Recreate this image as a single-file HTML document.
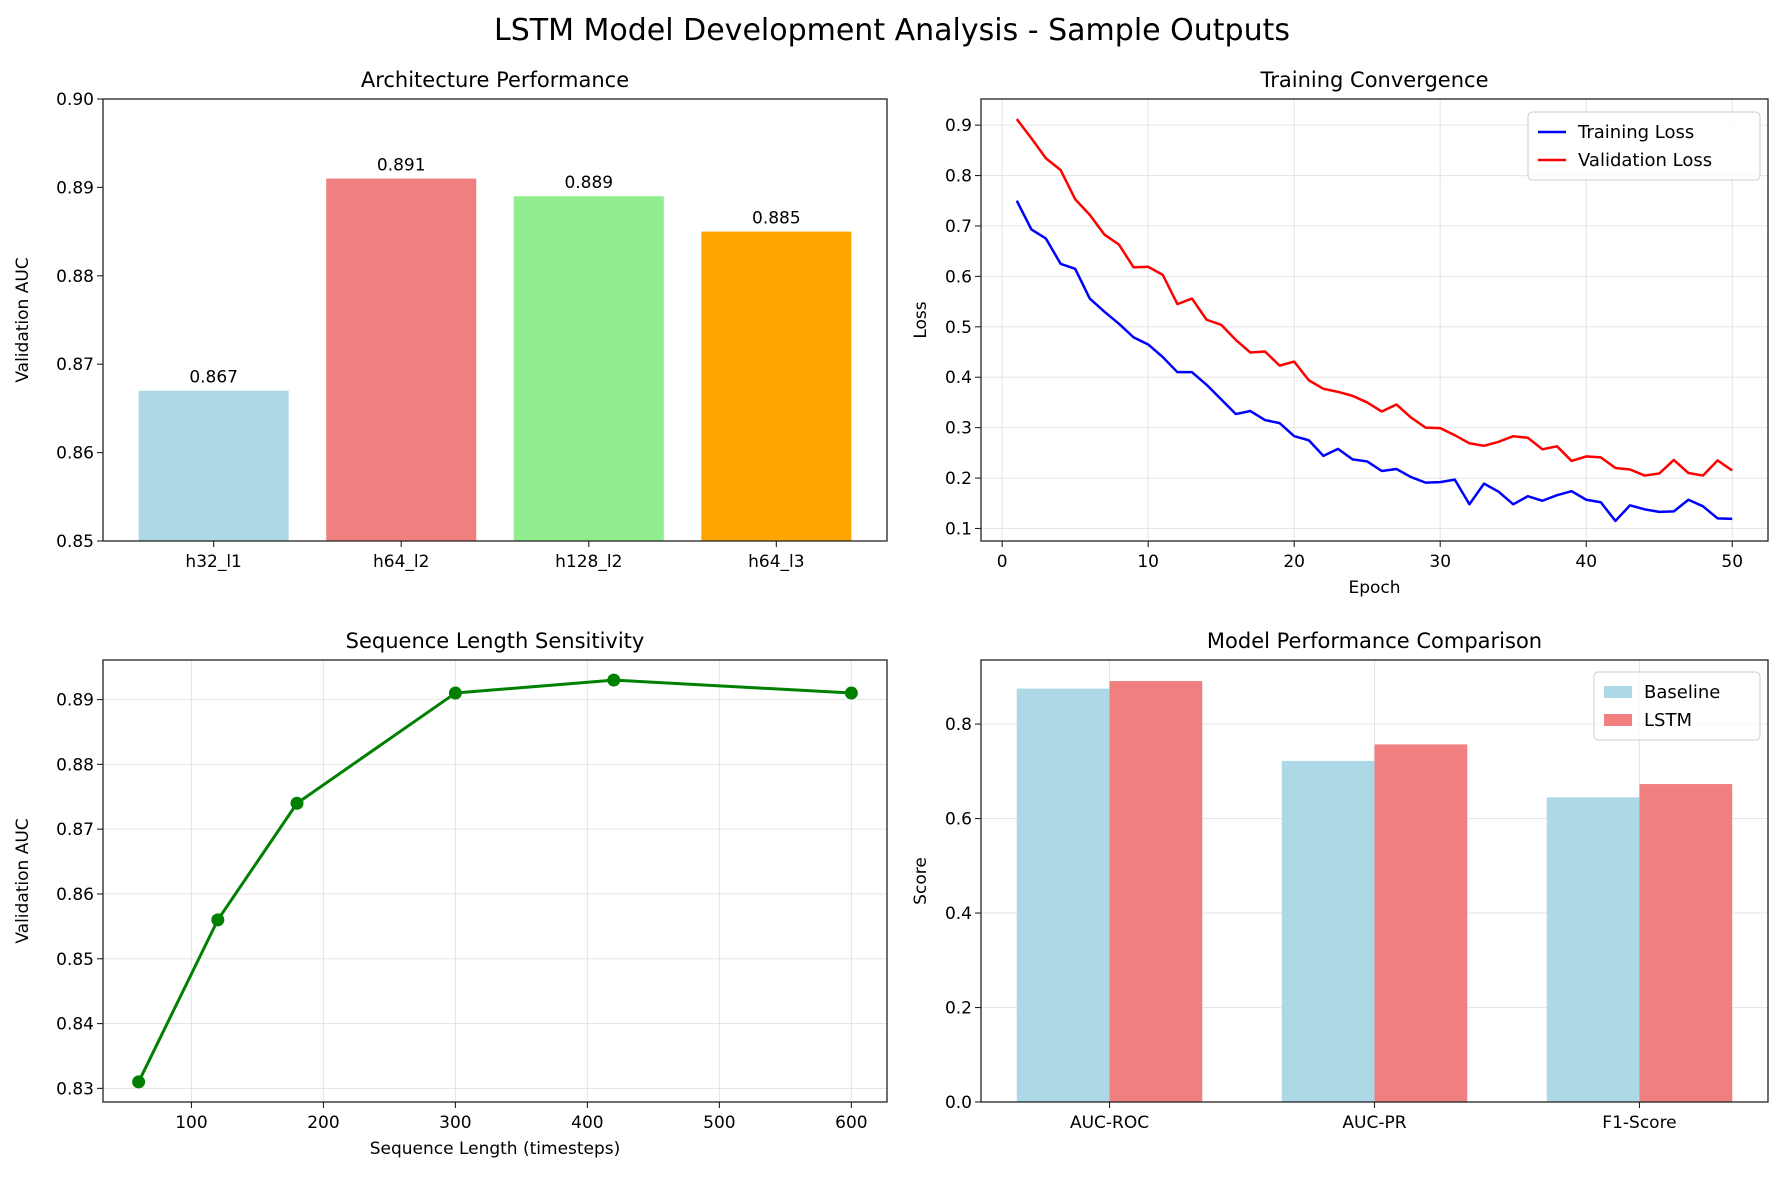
<!DOCTYPE html>
<html><head><meta charset="utf-8"><style>
body{margin:0;background:#fff}
svg{display:block;font-family:"DejaVu Sans","Liberation Sans",sans-serif}
</style></head><body>
<svg id="fig" width="1784" height="1181" viewBox="0 0 1784 1181" xmlns="http://www.w3.org/2000/svg">
<rect width="1784" height="1181" fill="#fff"/>
<text x="892" y="40" font-size="30" text-anchor="middle">LSTM Model Development Analysis - Sample Outputs</text>
</svg>
<script>
const archCats=["h32_l1","h64_l2","h128_l2","h64_l3"];
const archVals=[0.867,0.891,0.889,0.885];
const archLabels=["0.867","0.891","0.889","0.885"];
const archColors=["lightblue","lightcoral","lightgreen","orange"];
const archTicks=[0.85,0.86,0.87,0.88,0.89,0.90];
const archTickLabels=["0.85","0.86","0.87","0.88","0.89","0.90"];

const trainLoss=[0.75,0.693,0.675,0.625,0.615,0.556,0.53,0.506,0.479,0.465,0.44,0.41,0.41,0.385,0.356,0.327,0.333,0.315,0.309,0.283,0.275,0.244,0.258,0.237,0.233,0.214,0.218,0.202,0.191,0.192,0.197,0.148,0.189,0.173,0.148,0.164,0.155,0.166,0.174,0.157,0.152,0.115,0.146,0.138,0.133,0.134,0.157,0.144,0.12,0.119];
const valLoss=[0.912,0.874,0.834,0.811,0.753,0.722,0.683,0.663,0.618,0.619,0.603,0.545,0.556,0.514,0.504,0.474,0.449,0.451,0.423,0.431,0.394,0.377,0.371,0.363,0.35,0.332,0.346,0.32,0.3,0.299,0.285,0.269,0.264,0.272,0.283,0.28,0.257,0.263,0.234,0.243,0.241,0.22,0.217,0.205,0.209,0.236,0.21,0.205,0.235,0.215];
const lossXTicks=[0,10,20,30,40,50];
const lossYTicks=[0.1,0.2,0.3,0.4,0.5,0.6,0.7,0.8,0.9];

const seqLens=[60,120,180,300,420,600];
const seqAuc=[0.831,0.856,0.874,0.891,0.893,0.891];
const seqXTicks=[100,200,300,400,500,600];
const seqYTicks=[0.83,0.84,0.85,0.86,0.87,0.88,0.89];

const metricCats=["AUC-ROC","AUC-PR","F1-Score"];
const baselineVals=[0.875,0.722,0.645];
const lstmVals=[0.891,0.757,0.673];
const scoreTicks=[0,0.2,0.4,0.6,0.8];

const svg=document.getElementById('fig');
const NS='http://www.w3.org/2000/svg';
function mk(tag,attrs,parent){const e=document.createElementNS(NS,tag);for(const k in attrs)e.setAttribute(k,attrs[k]);(parent||svg).appendChild(e);return e;}
function txt(s,attrs,parent){const e=mk('text',attrs,parent);e.textContent=s;return e;}
function lin(a,b,c,d){return v=>c+(v-a)/(b-a)*(d-c);}

function axesFrame(g,L,T,R,B){
  const f=mk('rect',{x:L,y:T,width:R-L,height:B-T,fill:'none',stroke:'#222','stroke-width':1.3},g);
  
}
function yTicks(g,ticks,labels,ys,L,R,grid){
  ticks.forEach((t,i)=>{const y=ys(t);
    if(grid){const gl=mk('line',{x1:L,x2:R,y1:y,y2:y,stroke:'#b0b0b0','stroke-opacity':0.3,'stroke-width':1.1},g);}
    mk('line',{x1:L-6,x2:L,y1:y,y2:y,stroke:'#222','stroke-width':1.1},g);
    const tl=txt(labels[i],{x:L-9,y:y+6,'font-size':17,'text-anchor':'end'},g);
    
  });
}
function xTicks(g,ticks,labels,xs,T,B,grid){
  ticks.forEach((t,i)=>{const x=xs(t);
    if(grid){const gl=mk('line',{x1:x,x2:x,y1:T,y2:B,stroke:'#b0b0b0','stroke-opacity':0.3,'stroke-width':1.1},g);}
    mk('line',{x1:x,x2:x,y1:B,y2:B+6,stroke:'#222','stroke-width':1.1},g);
    const tl=txt(labels[i],{x:x,y:B+26,'font-size':17,'text-anchor':'middle'},g);
    
  });
}
function titles(g,title,xl,yl,L,T,R,B,ylx){
  const t=txt(title,{x:(L+R)/2,y:T-12,'font-size':21,'text-anchor':'middle'},g);
  
  if(xl){const x=txt(xl,{x:(L+R)/2,y:B+52,'font-size':17,'text-anchor':'middle'},g);}
  if(yl){const cy=(T+B)/2;const y=txt(yl,{x:ylx,y:cy,'font-size':17,'text-anchor':'middle',transform:`rotate(-90 ${ylx} ${cy})`},g);}
}
function legend(g,x,y,w,items,type){
  const box=mk('rect',{x:x,y:y,width:w,height:items.length*28+12,rx:4,fill:'#fff','fill-opacity':0.8,stroke:'#ccc'},g);
  
  items.forEach((it,i)=>{const yy=y+20+i*28;
    const gi=mk('g',{},g);
    if(type==='line')mk('line',{x1:x+10,x2:x+38,y1:yy,y2:yy,stroke:it[1],'stroke-width':2.5},gi);
    else mk('rect',{x:x+10,y:yy-6,width:28,height:12,fill:it[1]},gi);
    txt(it[0],{x:x+50,y:yy+6,'font-size':18},gi);
  });
}

// Panel 1
{const L=103,R=887,T=99,B=541;const g=mk('g',{});
 const xs=lin(-0.59,3.59,L,R),ys=lin(0.85,0.90,B,T);
 archCats.forEach((c,i)=>{const x0=xs(i-0.4),x1=xs(i+0.4),y=ys(archVals[i]);
   const b=mk('rect',{x:x0,y:y,width:x1-x0,height:B-y,fill:archColors[i]},g);
   
   const l=txt(archLabels[i],{x:xs(i),y:y-8,'font-size':17,'text-anchor':'middle'},g);
   });
 yTicks(g,archTicks,archTickLabels,ys,L,R,false);
 xTicks(g,archCats.map((c,i)=>i),archCats,xs,T,B,false);
 axesFrame(g,L,T,R,B);
 titles(g,'Architecture Performance',null,'Validation AUC',L,T,R,B,28);}

// Panel 2
{const L=981,R=1768,T=99,B=541;const g=mk('g',{});
 const xs=lin(-1.45,52.45,L,R),ys=lin(0.0752,0.9518,B,T);
 yTicks(g,lossYTicks,lossYTicks.map(v=>v.toFixed(1)),ys,L,R,true);
 xTicks(g,lossXTicks,lossXTicks.map(String),xs,T,B,true);
 [[trainLoss,'blue','training-loss-line'],[valLoss,'red','validation-loss-line']].forEach(s=>{
   const p=mk('polyline',{points:s[0].map((v,i)=>xs(i+1)+','+ys(v)).join(' '),fill:'none',stroke:s[1],'stroke-width':2.5,'stroke-linejoin':'round'},g);
   });
 axesFrame(g,L,T,R,B);
 legend(g,1528,112,232,[['Training Loss','blue'],['Validation Loss','red']],'line');
 titles(g,'Training Convergence','Epoch','Loss',L,T,R,B,926);}

// Panel 3
{const L=103,R=887,T=660,B=1102;const g=mk('g',{});
 const xs=lin(33,627,L,R),ys=lin(0.8279,0.8961,B,T);
 yTicks(g,seqYTicks,seqYTicks.map(v=>v.toFixed(2)),ys,L,R,true);
 xTicks(g,seqXTicks,seqXTicks.map(String),xs,T,B,true);
 const p=mk('polyline',{points:seqLens.map((v,i)=>xs(v)+','+ys(seqAuc[i])).join(' '),fill:'none',stroke:'green','stroke-width':3,'stroke-linejoin':'round'},g);
 
 seqLens.forEach((v,i)=>{const c=mk('circle',{cx:xs(v),cy:ys(seqAuc[i]),r:6.5,fill:'green'},g);});
 axesFrame(g,L,T,R,B);
 titles(g,'Sequence Length Sensitivity','Sequence Length (timesteps)','Validation AUC',L,T,R,B,28);}

// Panel 4
{const L=981,R=1768,T=660,B=1102;const g=mk('g',{});
 const xs=lin(-0.485,2.485,L,R),ys=lin(0,0.9356,B,T);
 yTicks(g,scoreTicks,scoreTicks.map(v=>v.toFixed(1)),ys,L,R,true);
 xTicks(g,metricCats.map((c,i)=>i),metricCats,xs,T,B,true);
 metricCats.forEach((c,i)=>{
   let x0=xs(i-0.35),x1=xs(i),y=ys(baselineVals[i]);
   const b=mk('rect',{x:x0,y:y,width:x1-x0,height:B-y,fill:'lightblue'},g);
   x0=xs(i);x1=xs(i+0.35);y=ys(lstmVals[i]);
   const b2=mk('rect',{x:x0,y:y,width:x1-x0,height:B-y,fill:'lightcoral'},g);
 });
 axesFrame(g,L,T,R,B);
 legend(g,1594,672,166,[['Baseline','lightblue'],['LSTM','lightcoral']],'rect');
 titles(g,'Model Performance Comparison',null,'Score',L,T,R,B,926);}
</script>
</body></html>
